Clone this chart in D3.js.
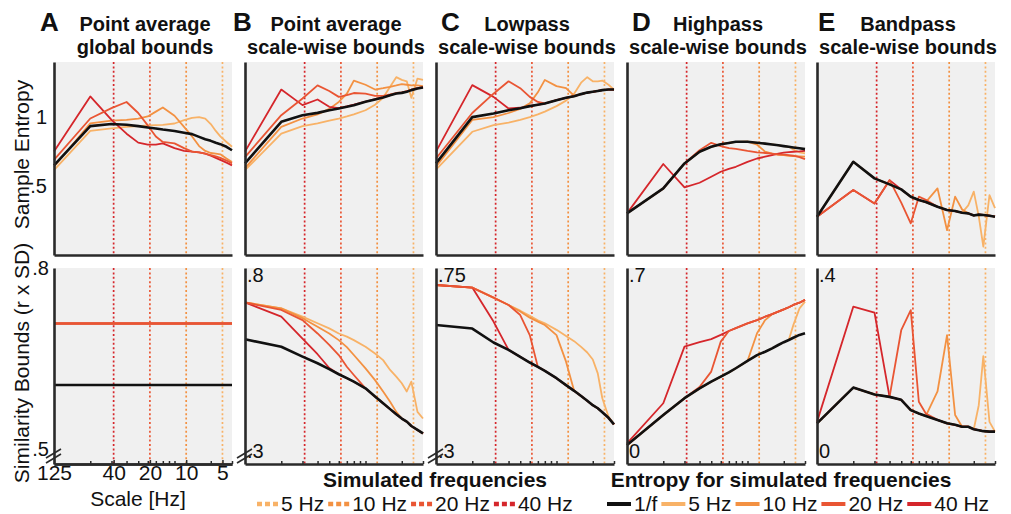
<!DOCTYPE html>
<html>
<head>
<meta charset="utf-8">
<script src="https://cdn.jsdelivr.net/npm/d3@7"></script>
<style>
  body { margin: 0; background: #fff; }
  svg text { font-family: "Liberation Sans", Arial, sans-serif; fill: #111; }
</style>
</head>
<body>
<div id="chart"></div>
<script>
// ---- data ----
// scale index of the multiscale entropy (x axis is log scale, 125 Hz at scale 1)
const scales = [1, 2, 3, 4, 5, 6, 7, 8, 10, 12, 14, 16, 18, 20, 22, 24, 27, 30];
const flatScales = [1, 30];
const simFreqs = [5, 10, 20, 40];
const tickFreqs = [125, 40, 20, 10, 5];
const minorScales = [2, 3, 4, 5, 6, 7, 8, 9, 10, 20, 30];

const panelLetters = ["A", "B", "C", "D", "E"];
const titleLine1 = ["Point average", "Point average", "Lowpass", "Highpass", "Bandpass"];
const titleLine2 = ["global bounds", "scale-wise bounds", "scale-wise bounds", "scale-wise bounds", "scale-wise bounds"];

// series order in every panel: [1/f, 5 Hz, 10 Hz, 20 Hz, 40 Hz]
const entropyA = [
  [0.65, 0.935, 0.95, 0.945, 0.935, 0.925, 0.918, 0.91, 0.90, 0.887, 0.877, 0.857, 0.84, 0.828, 0.814, 0.804, 0.785, 0.76],
  [0.615, 0.90, 0.918, 0.93, 0.935, 0.94, 0.942, 0.944, 0.954, 0.978, 0.995, 1.0, 0.99, 0.95, 0.90, 0.86, 0.82, 0.785],
  [0.64, 0.955, 0.975, 0.98, 0.99, 1.005, 1.04, 1.07, 1.01, 0.93, 0.86, 0.79, 0.755, 0.74, 0.735, 0.73, 0.70, 0.675],
  [0.69, 0.99, 1.065, 1.11, 1.03, 0.94, 0.86, 0.82, 0.81, 0.775, 0.75, 0.745, 0.735, 0.725, 0.715, 0.705, 0.685, 0.665],
  [0.75, 1.15, 0.98, 0.88, 0.815, 0.80, 0.80, 0.81, 0.775, 0.755, 0.75, 0.745, 0.735, 0.72, 0.705, 0.69, 0.67, 0.65]
];
const entropyB = [
  [0.665, 0.966, 1.014, 1.031, 1.05, 1.063, 1.075, 1.087, 1.111, 1.128, 1.142, 1.159, 1.171, 1.176, 1.184, 1.196, 1.208, 1.215],
  [0.615, 0.88, 0.935, 0.955, 0.975, 0.99, 1.005, 1.02, 1.05, 1.09, 1.14, 1.22, 1.29, 1.27, 1.26, 1.14, 1.28, 1.27],
  [0.63, 0.93, 0.99, 1.02, 1.06, 1.11, 1.17, 1.265, 1.235, 1.20, 1.21, 1.22, 1.23, 1.24, 1.235, 1.23, 1.23, 1.225],
  [0.71, 1.014, 1.135, 1.23, 1.19, 1.147, 1.16, 1.175, 1.17, 1.155, 1.155, 1.165, 1.175, 1.18, 1.188, 1.2, 1.21, 1.218],
  [0.75, 1.20, 1.087, 1.128, 1.075, 1.065, 1.078, 1.09, 1.113, 1.13, 1.145, 1.16, 1.172, 1.178, 1.186, 1.198, 1.21, 1.217]
];
const entropyC = [
  [0.665, 1.0, 1.027, 1.05, 1.065, 1.08, 1.09, 1.099, 1.123, 1.14, 1.152, 1.167, 1.178, 1.184, 1.19, 1.196, 1.2, 1.2],
  [0.62, 0.894, 0.942, 0.96, 0.98, 1.0, 1.02, 1.04, 1.08, 1.12, 1.17, 1.25, 1.29, 1.26, 1.26, 1.265, 1.235, 1.2],
  [0.64, 0.98, 1.0, 1.03, 1.06, 1.10, 1.18, 1.27, 1.225, 1.21, 1.155, 1.167, 1.178, 1.184, 1.19, 1.196, 1.2, 1.2],
  [0.70, 1.03, 1.17, 1.26, 1.21, 1.147, 1.11, 1.10, 1.123, 1.14, 1.152, 1.167, 1.178, 1.184, 1.19, 1.196, 1.2, 1.2],
  [0.75, 1.232, 1.147, 1.063, 1.068, 1.08, 1.09, 1.099, 1.123, 1.14, 1.152, 1.167, 1.178, 1.184, 1.19, 1.196, 1.2, 1.2]
];
const entropyD = [
  [0.302, 0.483, 0.664, 0.749, 0.785, 0.804, 0.813, 0.821, 0.822, 0.814, 0.808, 0.802, 0.796, 0.79, 0.785, 0.78, 0.774, 0.768],
  [0.302, 0.483, 0.664, 0.749, 0.785, 0.804, 0.813, 0.821, 0.822, 0.814, 0.808, 0.802, 0.796, 0.79, 0.785, 0.765, 0.745, 0.737],
  [0.302, 0.483, 0.664, 0.749, 0.785, 0.804, 0.813, 0.821, 0.822, 0.80, 0.75, 0.735, 0.727, 0.725, 0.72, 0.718, 0.716, 0.713],
  [0.302, 0.483, 0.664, 0.76, 0.814, 0.79, 0.775, 0.77, 0.755, 0.745, 0.74, 0.735, 0.73, 0.728, 0.724, 0.72, 0.71, 0.695],
  [0.302, 0.66, 0.49, 0.524, 0.568, 0.604, 0.625, 0.64, 0.676, 0.70, 0.713, 0.725, 0.735, 0.742, 0.746, 0.749, 0.752, 0.756]
];
const entropyE = [
  [0.278, 0.676, 0.556, 0.512, 0.476, 0.423, 0.399, 0.384, 0.35, 0.326, 0.319, 0.307, 0.302, 0.287, 0.293, 0.29, 0.285, 0.278],
  [0.278, 0.676, 0.556, 0.512, 0.476, 0.423, 0.399, 0.384, 0.35, 0.326, 0.319, 0.307, 0.36, 0.46, 0.28, 0.06, 0.435, 0.34],
  [0.278, 0.676, 0.556, 0.512, 0.476, 0.423, 0.399, 0.384, 0.483, 0.18, 0.423, 0.33, 0.302, 0.287, 0.293, 0.29, 0.285, 0.278],
  [0.278, 0.471, 0.374, 0.543, 0.38, 0.23, 0.423, 0.40, 0.35, 0.326, 0.319, 0.307, 0.302, 0.287, 0.293, 0.29, 0.285, 0.278],
  [0.278, 0.471, 0.374, 0.543, 0.476, 0.423, 0.399, 0.384, 0.35, 0.326, 0.319, 0.307, 0.302, 0.287, 0.293, 0.29, 0.285, 0.278]
];

// similarity bounds (r x SD)
const boundsA = [
  [0.606, 0.606],
  [0.708, 0.708],
  [0.708, 0.708],
  [0.708, 0.708],
  [0.708, 0.708]
];
const boundsB = [
  [0.618, 0.599, 0.574, 0.557, 0.542, 0.529, 0.519, 0.51, 0.493, 0.472, 0.455, 0.44, 0.427, 0.416, 0.408, 0.397, 0.387, 0.378],
  [0.712, 0.697, 0.676, 0.659, 0.646, 0.633, 0.625, 0.616, 0.599, 0.582, 0.565, 0.54, 0.523, 0.506, 0.485, 0.51, 0.433, 0.416],
  [0.712, 0.697, 0.672, 0.65, 0.633, 0.616, 0.598, 0.578, 0.544, 0.514, 0.485, 0.459, 0.433, 0.416, 0.408, 0.397, 0.387, 0.378],
  [0.712, 0.693, 0.667, 0.633, 0.604, 0.578, 0.548, 0.527, 0.493, 0.472, 0.455, 0.44, 0.427, 0.416, 0.408, 0.397, 0.387, 0.378],
  [0.712, 0.676, 0.62, 0.58, 0.545, 0.529, 0.519, 0.51, 0.493, 0.472, 0.455, 0.44, 0.427, 0.416, 0.408, 0.397, 0.387, 0.378]
];
const boundsC = [
  [0.619, 0.611, 0.579, 0.562, 0.546, 0.533, 0.523, 0.514, 0.497, 0.481, 0.468, 0.456, 0.445, 0.435, 0.428, 0.419, 0.406, 0.391],
  [0.711, 0.705, 0.682, 0.665, 0.652, 0.64, 0.63, 0.623, 0.608, 0.594, 0.582, 0.569, 0.556, 0.54, 0.508, 0.451, 0.409, 0.391],
  [0.711, 0.705, 0.682, 0.665, 0.65, 0.636, 0.627, 0.619, 0.596, 0.535, 0.468, 0.456, 0.445, 0.435, 0.428, 0.419, 0.406, 0.391],
  [0.711, 0.705, 0.682, 0.665, 0.642, 0.596, 0.523, 0.514, 0.497, 0.481, 0.468, 0.456, 0.445, 0.435, 0.428, 0.419, 0.406, 0.391],
  [0.711, 0.705, 0.627, 0.562, 0.546, 0.533, 0.523, 0.514, 0.497, 0.481, 0.468, 0.456, 0.445, 0.435, 0.428, 0.419, 0.406, 0.391]
];
const boundsD = [
  [0.068, 0.175, 0.235, 0.27, 0.294, 0.312, 0.327, 0.342, 0.368, 0.389, 0.401, 0.413, 0.425, 0.435, 0.443, 0.451, 0.461, 0.467],
  [0.068, 0.175, 0.235, 0.27, 0.294, 0.312, 0.327, 0.342, 0.368, 0.389, 0.401, 0.413, 0.425, 0.435, 0.443, 0.496, 0.556, 0.58],
  [0.068, 0.175, 0.235, 0.27, 0.294, 0.312, 0.327, 0.342, 0.368, 0.467, 0.514, 0.535, 0.544, 0.552, 0.56, 0.568, 0.576, 0.586],
  [0.068, 0.175, 0.235, 0.275, 0.33, 0.437, 0.475, 0.485, 0.502, 0.514, 0.526, 0.535, 0.544, 0.552, 0.56, 0.568, 0.576, 0.586],
  [0.074, 0.217, 0.419, 0.435, 0.446, 0.461, 0.475, 0.485, 0.502, 0.514, 0.526, 0.535, 0.544, 0.552, 0.56, 0.568, 0.576, 0.586]
];
const boundsE = [
  [0.083, 0.156, 0.142, 0.137, 0.131, 0.11, 0.103, 0.098, 0.09, 0.083, 0.08, 0.076, 0.076, 0.071, 0.069, 0.067, 0.066, 0.066],
  [0.083, 0.156, 0.142, 0.137, 0.131, 0.11, 0.103, 0.098, 0.09, 0.083, 0.08, 0.076, 0.076, 0.071, 0.12, 0.22, 0.086, 0.066],
  [0.083, 0.156, 0.142, 0.137, 0.131, 0.11, 0.103, 0.098, 0.148, 0.263, 0.10, 0.076, 0.076, 0.071, 0.069, 0.067, 0.066, 0.066],
  [0.083, 0.156, 0.142, 0.137, 0.273, 0.314, 0.127, 0.103, 0.09, 0.083, 0.08, 0.076, 0.076, 0.071, 0.069, 0.067, 0.066, 0.066],
  [0.086, 0.321, 0.309, 0.137, 0.131, 0.11, 0.103, 0.098, 0.09, 0.083, 0.08, 0.076, 0.076, 0.071, 0.069, 0.067, 0.066, 0.066]
];

const boundsDomains = [[0.475, 0.8], [0.3, 0.8], [0.3, 0.75], [0, 0.7], [0, 0.4]];
const boundsCorner = [null, [".8", ".3"], [".75", ".3"], [".7", "0"], [".4", "0"]];

// ---- layout ----
const W = 1011, H = 514;
const panelLefts = [54, 245, 436, 627, 817];
const panelW = 178;
const letterX = [40, 233, 441, 632, 818];
const top0 = 62, top1 = 255;   // entropy row
const bot0 = 268, bot1 = 464;  // bounds row

const freqColors = ["#f8b267", "#f39142", "#e95533", "#d5262b"]; // 5,10,20,40 Hz
const blackColor = "#111111";
const axisColor = "#2a2a2a";
const drawOrder = [1, 2, 4, 3]; // 5, 10, 40, 20 Hz then 1/f on top

const entropyPanels = [entropyA, entropyB, entropyC, entropyD, entropyE];
const boundsPanels = [boundsA, boundsB, boundsC, boundsD, boundsE];
const boundsGrids = [flatScales, scales, scales, scales, scales];

const svg = d3.select("#chart").append("svg")
    .attr("width", W)
    .attr("height", H);

function drawRow(x, y, series, grid, y0, y1) {
    const g = svg.append("g");

    g.append("rect")
        .attr("x", x.range()[0])
        .attr("y", y0)
        .attr("width", panelW)
        .attr("height", y1 - y0)
        .attr("fill", "#f0f0f0");

    // dotted markers of the simulated frequencies
    simFreqs.forEach((f, i) => {
        g.append("line")
            .attr("x1", x(125 / f)).attr("x2", x(125 / f))
            .attr("y1", y0).attr("y2", y1)
            .attr("stroke", freqColors[i])
            .attr("stroke-width", 1.7)
            .attr("stroke-dasharray", "2,2.4");
    });

    const line = d3.line()
        .x((d, i) => x(grid[i]))
        .y(d => y(d));

    drawOrder.forEach(k => {
        g.append("path")
            .datum(series[k])
            .attr("d", line)
            .attr("fill", "none")
            .attr("stroke", freqColors[k - 1])
            .attr("stroke-width", 1.8)
            .attr("stroke-linejoin", "round");
    });

    g.append("path")
        .datum(series[0])
        .attr("d", line)
        .attr("fill", "none")
        .attr("stroke", blackColor)
        .attr("stroke-width", 2.6)
        .attr("stroke-linejoin", "round");

    return g;
}

function styleAxis(ax) {
    ax.select(".domain").attr("stroke", axisColor).attr("stroke-width", 2.6);
    ax.selectAll(".tick line").attr("stroke", axisColor).attr("stroke-width", 1.5);
    ax.selectAll("text").attr("font-size", 20).attr("fill", "#111");
}

panelLefts.forEach((left, p) => {
    const x = d3.scaleLog().domain([1, 30]).range([left, left + panelW]);
    const yTop = d3.scaleLinear().domain([0, 1.4]).range([top1, top0]);
    const yBot = d3.scaleLinear().domain(boundsDomains[p]).range([bot1, bot0]);

    // ---- entropy row ----
    drawRow(x, yTop, entropyPanels[p], scales, top0, top1);

    const leftTop = svg.append("g")
        .attr("transform", "translate(" + left + ",0)")
        .call(d3.axisLeft(yTop)
            .tickValues(p === 0 ? [0.5, 1] : [])
            .tickFormat(d => d === 1 ? "1" : ".5")
            .tickSize(0).tickSizeOuter(0).tickPadding(7));
    styleAxis(leftTop);

    const bottomTop = svg.append("g")
        .attr("transform", "translate(0," + top1 + ")")
        .call(d3.axisBottom(x).tickValues([]).tickSizeOuter(0));
    styleAxis(bottomTop);

    // ---- bounds row ----
    drawRow(x, yBot, boundsPanels[p], boundsGrids[p], bot0, bot1);

    const leftBot = svg.append("g")
        .attr("transform", "translate(" + left + ",0)")
        .call(d3.axisLeft(yBot)
            .tickValues(p === 0 ? [0.5, 0.8] : [])
            .tickFormat(d => d === 0.8 ? ".8" : ".5")
            .tickSize(0).tickSizeOuter(0).tickPadding(5));
    styleAxis(leftBot);

    const minorAx = svg.append("g")
        .attr("transform", "translate(0," + bot1 + ")")
        .call(d3.axisBottom(x).tickValues(minorScales).tickFormat("").tickSize(-3).tickSizeOuter(0));
    styleAxis(minorAx);

    if (p === 0) {
        const labelAx = svg.append("g")
            .attr("transform", "translate(0," + bot1 + ")")
            .call(d3.axisBottom(x)
                .tickValues(tickFreqs.map(f => 125 / f))
                .tickFormat((d, i) => tickFreqs[i])
                .tickSize(-4).tickSizeOuter(0));
        styleAxis(labelAx);
        labelAx.selectAll("text")
            .attr("y", 16).attr("dy", 0)
            .attr("font-size", 21);
    }

    if (boundsCorner[p]) {
        svg.append("text")
            .attr("x", left + 2).attr("y", bot0 + 14)
            .attr("font-size", 20)
            .text(boundsCorner[p][0]);
        svg.append("text")
            .attr("x", left + 2).attr("y", bot1 - 6)
            .attr("font-size", 20)
            .text(boundsCorner[p][1]);
    }

    // axis break marks
    if (p < 3) {
        [0, 5].forEach(dy => {
            svg.append("line")
                .attr("x1", left - 8).attr("y1", bot1 - 6 + dy)
                .attr("x2", left + 7).attr("y2", bot1 - 15 + dy)
                .attr("stroke", axisColor)
                .attr("stroke-width", 1.6);
        });
    }

    // titles
    const cx = left + panelW / 2;
    svg.append("text")
        .attr("x", letterX[p]).attr("y", 31)
        .attr("font-size", 26).attr("font-weight", "bold")
        .text(panelLetters[p]);
    svg.append("text")
        .attr("x", cx + 2).attr("y", 31)
        .attr("text-anchor", "middle")
        .attr("font-size", 20).attr("font-weight", "bold")
        .text(titleLine1[p]);
    svg.append("text")
        .attr("x", cx + 2).attr("y", 54)
        .attr("text-anchor", "middle")
        .attr("font-size", 20).attr("font-weight", "bold")
        .text(titleLine2[p]);
});

// axis titles
svg.append("text")
    .attr("transform", "translate(29," + ((top0 + top1) / 2 - 4) + ") rotate(-90)")
    .attr("text-anchor", "middle")
    .attr("font-size", 21)
    .text("Sample Entropy");
svg.append("text")
    .attr("transform", "translate(29,363) rotate(-90)")
    .attr("text-anchor", "middle")
    .attr("font-size", 21)
    .text("Similarity Bounds (r x SD)");
svg.append("text")
    .attr("x", 138).attr("y", 506)
    .attr("text-anchor", "middle")
    .attr("font-size", 21)
    .text("Scale [Hz]");

// ---- legends ----
function legend(title, titleX, startX, items) {
    svg.append("text")
        .attr("x", titleX).attr("y", 487)
        .attr("text-anchor", "middle")
        .attr("font-size", 21).attr("font-weight", "bold")
        .text(title);
    let xPos = startX;
    items.forEach(it => {
        svg.append("line")
            .attr("x1", xPos).attr("x2", xPos + it.w)
            .attr("y1", 504).attr("y2", 504)
            .attr("stroke", it.color)
            .attr("stroke-width", it.dotted ? 4.5 : 4)
            .attr("stroke-dasharray", it.dotted ? "5,3" : null);
        const t = svg.append("text")
            .attr("x", xPos + it.w + 3).attr("y", 511)
            .attr("font-size", 21)
            .text(it.label);
        xPos = xPos + it.w + 3 + t.node().getComputedTextLength() + 4;
    });
}

legend("Simulated frequencies", 435, 257,
    simFreqs.map((f, i) => ({ label: f + " Hz", color: freqColors[i], dotted: true, w: 21 })));

legend("Entropy for simulated frequencies", 781, 607,
    [{ label: "1/f", color: blackColor, dotted: false, w: 24 }].concat(
        simFreqs.map((f, i) => ({ label: f + " Hz", color: freqColors[i], dotted: false, w: 24 }))));
</script>
</body>
</html>
